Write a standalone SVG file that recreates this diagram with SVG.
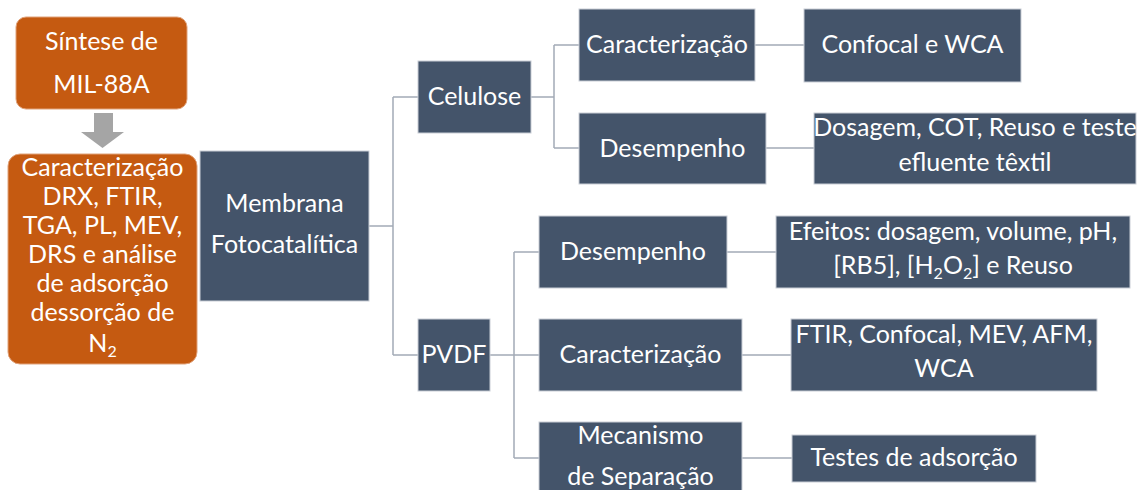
<svg xmlns="http://www.w3.org/2000/svg" width="1140" height="490" viewBox="0 0 1140 490">
  <style>
    .box { fill: #44546A; stroke: #C9CED6; stroke-width: 1; }
    .obox { fill: #C55A11; stroke: #E0A27A; stroke-width: 1; }
    .t { font-family: Lato, "Open Sans", sans-serif; font-size: 25px; fill: #FFFFFF; text-anchor: middle; }
    .sub { font-size: 16px; }
    .link { fill: none; stroke: #A3ABB6; stroke-width: 1.5; }
  </style>
  <rect width="1140" height="490" fill="#FFFFFF"/>

  <!-- tree connectors -->
  <g id="connectors">
    <path class="link" d="M369,226 H393 M393,97 V355 M393,97 H418 M393,355 H418"/>
    <path class="link" d="M531,97 H554 M554,45 V148 M554,45 H579 M554,148 H579"/>
    <path class="link" d="M755,45 H804 M766,148 H814"/>
    <path class="link" d="M490,355 H514 M514,252 V458 M514,252 H539 M514,355 H539 M514,458 H539"/>
    <path class="link" d="M727,252 H776 M742,355 H791 M742,458 H792"/>
  </g>

  <!-- synthesis step and arrow -->
  <g id="sintese">
    <rect class="obox" x="16" y="17" width="171" height="92" rx="10"/>
    <text class="t" x="101.5" y="50">Síntese de</text>
    <text class="t" x="101.5" y="93">MIL-88A</text>
  </g>
  <g id="seta">
    <path d="M94,113 H113 V132 H124 L102.5,148 L81,132 H94 Z" fill="#A5A5A5"/>
  </g>
  <g id="caracterizacao-mof">
    <rect class="obox" x="8" y="154" width="189" height="210" rx="12"/>
    <text class="t" x="102.5" y="176">Caracterização</text>
    <text class="t" x="102.5" y="205">DRX, FTIR,</text>
    <text class="t" x="102.5" y="234">TGA, PL, MEV,</text>
    <text class="t" x="102.5" y="263">DRS e análise</text>
    <text class="t" x="102.5" y="292">de adsorção</text>
    <text class="t" x="102.5" y="321">dessorção de</text>
    <text class="t" x="102.5" y="352">N<tspan class="sub" dy="5">2</tspan></text>
  </g>

  <!-- membrane root -->
  <g id="membrana">
    <rect class="box" x="200" y="151" width="169" height="150"/>
    <text class="t" x="284.5" y="212">Membrana</text>
    <text class="t" x="284.5" y="253">Fotocatalítica</text>
  </g>

  <!-- cellulose branch -->
  <g id="celulose">
    <rect class="box" x="418" y="61" width="113" height="72"/>
    <text class="t" x="474.5" y="105">Celulose</text>
  </g>
  <g id="cel-caracterizacao">
    <rect class="box" x="579" y="9" width="176" height="72"/>
    <text class="t" x="667" y="53">Caracterização</text>
  </g>
  <g id="cel-desempenho">
    <rect class="box" x="579" y="113" width="187" height="71"/>
    <text class="t" x="672.5" y="157">Desempenho</text>
  </g>
  <g id="cel-confocal">
    <rect class="box" x="804" y="9" width="217" height="73"/>
    <text class="t" x="912.5" y="53">Confocal e WCA</text>
  </g>
  <g id="cel-dosagem">
    <rect class="box" x="814" y="113" width="322" height="71"/>
    <text class="t" x="975" y="136">Dosagem, COT, Reuso e teste</text>
    <text class="t" x="975" y="171">efluente têxtil</text>
  </g>

  <!-- PVDF branch -->
  <g id="pvdf">
    <rect class="box" x="418" y="319" width="72" height="72"/>
    <text class="t" x="454" y="363">PVDF</text>
  </g>
  <g id="pvdf-desempenho">
    <rect class="box" x="539" y="216" width="188" height="72"/>
    <text class="t" x="633" y="260">Desempenho</text>
  </g>
  <g id="pvdf-caracterizacao">
    <rect class="box" x="539" y="319" width="203" height="72"/>
    <text class="t" x="640.5" y="363">Caracterização</text>
  </g>
  <g id="pvdf-mecanismo">
    <rect class="box" x="539" y="422" width="203" height="74"/>
    <text class="t" x="640.5" y="444">Mecanismo</text>
    <text class="t" x="640.5" y="485">de Separação</text>
  </g>
  <g id="pvdf-efeitos">
    <rect class="box" x="776" y="216" width="354" height="72"/>
    <text class="t" x="953" y="240">Efeitos: dosagem, volume, pH,</text>
    <text class="t" x="953" y="274">[RB5], [H<tspan class="sub" dy="5">2</tspan><tspan dy="-5">O</tspan><tspan class="sub" dy="5">2</tspan><tspan dy="-5">] e Reuso</tspan></text>
  </g>
  <g id="pvdf-ftir">
    <rect class="box" x="791" y="319" width="306" height="72"/>
    <text class="t" x="944" y="343">FTIR, Confocal, MEV, AFM,</text>
    <text class="t" x="944" y="377">WCA</text>
  </g>
  <g id="pvdf-testes">
    <rect class="box" x="792" y="435" width="244" height="47"/>
    <text class="t" x="914" y="466">Testes de adsorção</text>
  </g>
</svg>
